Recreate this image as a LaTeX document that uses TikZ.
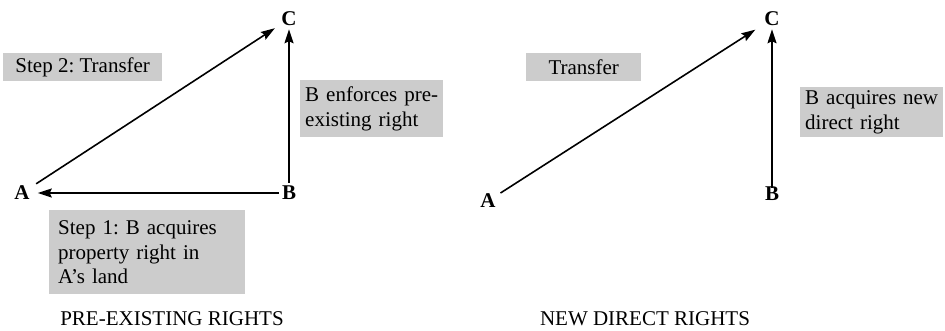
\documentclass[tikz,border=0pt]{standalone}
\usepackage{fontspec}
\setmainfont{Liberation Serif}
\usetikzlibrary{arrows.meta}
\definecolor{boxgray}{HTML}{CCCCCC}
\frenchspacing
\begin{document}
\begin{tikzpicture}[x=1pt,y=-1pt,
  gbox/.style={fill=boxgray, inner ysep=0pt, anchor=north west, font=\fontsize{21}{24.5}\selectfont\frenchspacing},
  lbl/.style={font=\fontsize{21}{24}\selectfont\bfseries, inner sep=3pt},
  arr/.style={line width=1.6pt, -{Stealth[length=14pt,width=9pt,inset=2pt]}},
  captiontext/.style={font=\fontsize{21}{24}\selectfont, anchor=base}]
\useasboundingbox (0,0) rectangle (945,330);

% left diagram
\node[lbl] (A1) at (22,193) {A};
\node[lbl] (B1) at (289,193) {B};
\node[lbl] (C1) at (289,19) {C};
\draw[arr, shorten <=4pt, shorten >=4pt] (A1) -- (C1);
\draw[arr, shorten >=5pt] (B1) -- (A1);
\draw[arr] (B1) -- (C1);

\node[gbox, minimum width=159pt, minimum height=28pt] (t1) at (3,53) {Step 2: Transfer};
\node[gbox, minimum width=196pt, minimum height=84pt, inner xsep=9pt, text width=178pt, align=left] (s1) at (49,210) {Step 1: B acquires\\property right in\\A’s land};
\node[gbox, minimum width=143pt, minimum height=57pt, inner xsep=5pt, text width=133pt, align=left] (e1) at (300,80) {B enforces pre-\\existing right};
\node[captiontext] (p1) at (172,325) {PRE-EXISTING RIGHTS};

% right diagram
\node[lbl] (A2) at (488,201) {A};
\node[lbl] (B2) at (772,194) {B};
\node[lbl] (C2) at (772,19) {C};
\draw[arr, shorten <=2pt, shorten >=7pt] (A2) -- (C2);
\draw[arr, shorten <=-4pt] (B2) -- (C2);

\node[gbox, minimum width=115pt, minimum height=28pt] (t2) at (526,53) {Transfer};
\node[gbox, minimum width=143pt, minimum height=50pt, inner xsep=5pt, text width=133pt, align=left] (n2) at (800,87) {B acquires new\\direct right};
\node[captiontext] (p2) at (645,325) {NEW DIRECT RIGHTS};
\end{tikzpicture}
\end{document}
